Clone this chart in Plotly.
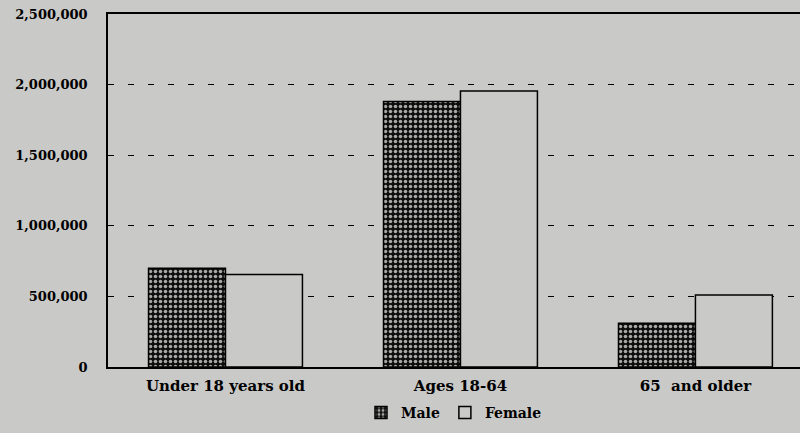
import plotly.graph_objects as go

categories = ["Under 18 years old", "Ages 18-64", "65  and older"]
male = [700000, 1880000, 310000]
female = [655000, 1955000, 510000]
tick_vals = [0, 500000, 1000000, 1500000, 2000000, 2500000]
tick_text = ["0", "500,000", "1,000,000", "1,500,000", "2,000,000", "2,500,000"]

BG = "#c9c9c7"
FONT = "DejaVu Serif"

fig = go.Figure()
fig.add_trace(go.Bar(
    name="Male", x=categories, y=male,
    marker=dict(color="#111111", line=dict(color="black", width=1.5),
                pattern=dict(shape=".", size=5, solidity=0.4, fgcolor="#a8a8a6", bgcolor="#0d0d0d",
                             fillmode="replace")),
))
fig.add_trace(go.Bar(
    name="Female", x=categories, y=female,
    marker=dict(color=BG, line=dict(color="black", width=1.5)),
))

fig.update_layout(
    width=800, height=433,
    paper_bgcolor=BG, plot_bgcolor=BG,
    margin=dict(l=108, r=0, t=14, b=66),
    barmode="group", bargap=0.345, bargroupgap=0,
    font=dict(family=FONT, size=14, color="black"),
    showlegend=True,
    legend=dict(orientation="h", x=0.5, xanchor="center", y=-0.13, yanchor="middle",
                font=dict(family=FONT, size=14, color="black", weight="bold"),
                itemwidth=30, tracegroupgap=0, bgcolor="rgba(0,0,0,0)"),
)
fig.update_xaxes(
    range=[-0.5, 2.445], showline=True, linecolor="black", linewidth=1.5, mirror=True,
    showgrid=False, ticks="", ticklabelstandoff=4,
    tickfont=dict(family=FONT, size=15, color="black", weight="bold"),
)
fig.update_yaxes(
    range=[0, 2500000], tickvals=tick_vals, ticktext=tick_text,
    showline=True, linecolor="black", linewidth=1.5, mirror=False,
    showgrid=True, gridcolor="black", gridwidth=1, griddash="6px,14px",
    zeroline=False, ticks="", ticklabelstandoff=16,
    tickfont=dict(family=FONT, size=13, color="black", weight="bold"),
)
fig.write_html("out.html", post_script="document.body.style.margin='0';",
               config={"displayModeBar": False})
